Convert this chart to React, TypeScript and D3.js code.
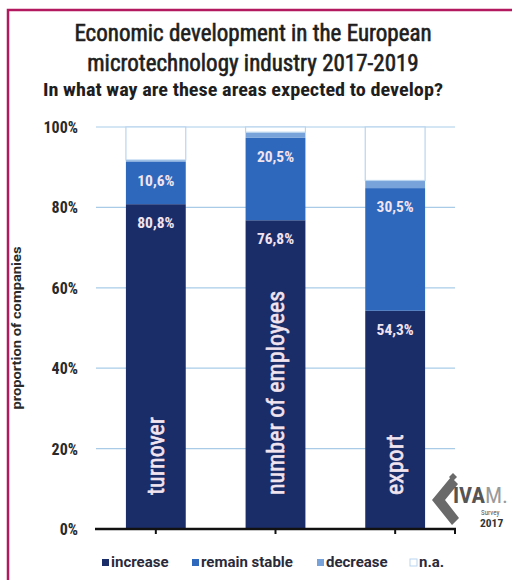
import React from "react";
import * as d3 from "d3";

const categories = ["turnover", "number of employees", "export"];
const seriesNames = ["increase", "remain stable", "decrease", "n.a."];
const increase = [80.8, 76.8, 54.3];
const remainStable = [10.6, 20.5, 30.5];
const decrease = [0.4, 1.4, 1.9];
const notAvailable = [8.2, 1.3, 13.3];
const yTicks = [0, 20, 40, 60, 80, 100];
const titleLines = [
  "Economic development in the European",
  "microtechnology industry 2017-2019",
];
const subtitle = "In what way are these areas expected to develop?";

const colors = ["#1b2d69", "#2d68bd", "#77a3da", "#ffffff"];
const FONT = "'Liberation Sans Narrow', 'Roboto Condensed', 'Arial Narrow', sans-serif";
const WIDE = "Roboto, 'Liberation Sans', sans-serif";

export default function App() {
  const W = 512;
  const H = 580;
  const x = d3
    .scaleBand<string>()
    .domain(categories)
    .range([96, 455])
    .paddingInner(0.5)
    .paddingOuter(0.25);
  const y = d3.scaleLinear().domain([0, 100]).range([529, 127]);

  const rows = categories.map((c, i) => ({
    cat: c,
    increase: increase[i],
    stable: remainStable[i],
    decrease: decrease[i],
    na: notAvailable[i],
  }));
  const keys = ["increase", "stable", "decrease", "na"];
  const stack = d3.stack<any>().keys(keys)(rows);

  const legendX = [102, 192, 317, 410];

  return (
    <svg width={W} height={H} style={{ position: "absolute", left: 0, top: 0 }}>
      <rect x={0} y={0} width={W} height={H} fill="#ffffff" />
      <rect x={8} y={10} width={W + 20} height={H + 20} fill="none" stroke="#b3195f" strokeWidth={2.5} />
      {/* title */}
      {titleLines.map((t, i) => (
        <text key={i} x={253} y={41 + i * 30} textAnchor="middle" fontFamily={FONT} fontSize={23} fill="#1e1e1e" stroke="#1e1e1e" strokeWidth={0.6}>
          {t}
        </text>
      ))}
      <text x={243} y={96} textAnchor="middle" fontFamily={FONT} fontSize={18} fontWeight="bold" fill="#1e1e1e" textLength={400} lengthAdjust="spacingAndGlyphs">
        {subtitle}
      </text>
      {/* gridlines */}
      {yTicks.map((t) => (
        <g key={t}>
          {t > 0 && <line x1={96} x2={455} y1={y(t)} y2={y(t)} stroke="#a9cbe8" strokeWidth={1.2} />}
          <text x={78} y={y(t) + 6} textAnchor="end" fontFamily={FONT} fontSize={16} fontWeight="bold" fill="#2a2a2a">
            {t}%
          </text>
        </g>
      ))}
      {/* bars */}
      {stack.map((layer, li) => (
        <g key={li}>
          {layer.map((d, i) => (
            <rect
              key={i}
              x={x(categories[i])!}
              y={y(d[1])}
              width={x.bandwidth()}
              height={y(d[0]) - y(d[1])}
              fill={colors[li]}
              stroke={li === 3 ? "#b9d5ef" : "none"}
              strokeWidth={1.2}
            />
          ))}
        </g>
      ))}
      {/* value labels */}
      {stack.slice(0, 2).map((layer, li) => (
        <g key={li}>
          {layer.map((d, i) => (
            <text
              key={i}
              x={x(categories[i])! + x.bandwidth() / 2}
              y={y(d[1]) + 24}
              textAnchor="middle"
              fontFamily={FONT}
              fontSize={15.5}
              fontWeight="bold"
              fill="#f1e4ef"
            >
              {(d[1] - d[0]).toFixed(1).replace(".", ",")}%
            </text>
          ))}
        </g>
      ))}
      {/* category labels */}
      {categories.map((c) => {
        const cx = x(c)! + x.bandwidth() / 2;
        return (
          <text
            key={c}
            transform={`translate(${cx + 8},495) rotate(-90)`}
            fontFamily={FONT}
            fontSize={24}
            fill="#f1e4ef"
            stroke="#f1e4ef"
            strokeWidth={0.6}
          >
            {c}
          </text>
        );
      })}
      {/* axis baseline */}
      <line x1={95} x2={456} y1={529} y2={529} stroke="#111" strokeWidth={2.5} />
      {[...categories.map((c) => x(c)! + x.bandwidth() / 2), 455].map((tx, i) => (
        <line key={i} x1={tx} x2={tx} y1={529} y2={534} stroke="#111" strokeWidth={2} />
      ))}
      {/* y axis title */}
      <text
        transform="translate(21,328) rotate(-90)"
        textAnchor="middle"
        fontFamily={WIDE}
        fontSize={13.5}
        fontWeight="bold"
        fill="#2a2a2a"
        textLength={163}
        lengthAdjust="spacingAndGlyphs"
      >
        proportion of companies
      </text>
      {/* legend */}
      {seriesNames.map((s, i) => (
        <g key={s}>
          <rect
            x={legendX[i]}
            y={559}
            width={7}
            height={7}
            fill={colors[i]}
            stroke={i === 3 ? "#b9d5ef" : "none"}
          />
          <text x={legendX[i] + 9} y={567} fontFamily={WIDE} fontSize={15} fontWeight="bold" fill="#2a2a3a">
            {s}
          </text>
        </g>
      ))}
      {/* logo */}
      <g>
        <path d="M451,477 L432,500 L452,525 L459,518 L445,500 L458,484 Z" fill="#6a6a6a" />
        <path d="M453,473 L457,477 L453,481 L449,477 Z" fill="#6a6a6a" />
        <text x={453} y={503} fontFamily={FONT} fontSize={22} fontWeight="bold" fill="#555" textLength={55} lengthAdjust="spacingAndGlyphs">
          IVA<tspan fill="#9a9a9a" fontWeight="normal">M.</tspan>
        </text>
        <text x={481} y={515} fontFamily={FONT} fontSize={7} fill="#555">
          Survey
        </text>
        <text x={480} y={527} fontFamily={FONT} fontSize={11.5} fontWeight="bold" fill="#333">
          2017
        </text>
      </g>
    </svg>
  );
}
